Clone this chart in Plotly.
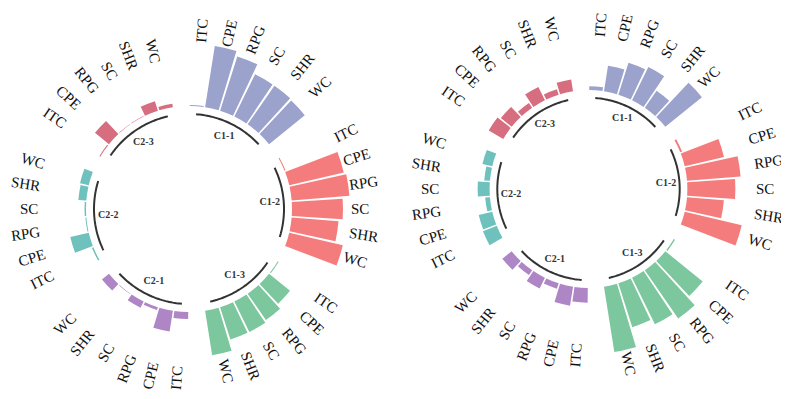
import numpy as np
import plotly.graph_objects as go

# ---------------- data ----------------
groups = ["C1-1", "C1-2", "C1-3", "C2-1", "C2-2", "C2-3"]
items = ["ITC", "CPE", "RPG", "SC", "SHR", "WC"]

# left panel values (one list per group, order = items)
left_c11 = [1, 62, 57, 47, 47, 46]
left_c12 = [1, 56, 58, 51, 47, 55]
left_c13 = [1, 27, 32, 34, 34, 45]
left_c21 = [7, 21, 3, 7, 0.5, 9]
left_c22 = [1.5, 19, 1, 1.5, 8, 9]
left_c23 = [1, 18, 0.5, 0.5, 10, 3.5]

# right panel values
right_c11 = [4, 27, 35, 38.5, 21.5, 49]
right_c12 = [2, 42, 56, 50, 38.5, 61]
right_c13 = [1.5, 50, 61, 54, 48, 70]
right_c21 = [15.5, 20, 6, 12.5, 6, 12.5]
right_c22 = [15.5, 14.5, 5, 12.5, 6, 10.5]
right_c23 = [17.5, 14.5, 6, 15.5, 6, 12.5]

left_values = [left_c11, left_c12, left_c13, left_c21, left_c22, left_c23]
right_values = [right_c11, right_c12, right_c13, right_c21, right_c22, right_c23]

# ---------------- style / layout ----------------
colors = ["#9BA2CC", "#F47C7C", "#7DC79E", "#AF86C5", "#6FC1BE", "#D76E80"]
W, H = 789, 399
R_MAX = 172      # radial axis range (units)
BASE = 103       # inner radius where bars start
ARC_R = 95       # radius of group arcs
GLAB_R = 81      # radius of group labels
LAB_FONT = 15
char_w = {"I": .333, "T": .611, "C": .667, "P": .556, "E": .611, "R": .667,
          "G": .722, "S": .556, "H": .722, "W": .944}

n_per = len(items) + 1
n_slots = len(groups) * n_per
step = 360.0 / n_slots


def theta_of(g, i):
    idx = g * n_per + i + 1
    return (idx - 0.5) * step


panels = [
    dict(name="polar", values=left_values, cx=181.0, cy=201.0, s=1.0,
         label_r=[167, 162, 154, 157, 151, 150]),
    dict(name="polar2", values=right_values, cx=580.5, cy=181.0, s=0.96,
         label_r=[159, 175, 175, 161.5, 156, 159]),
]

fig = go.Figure()
annotations = []
layout_polars = {}

for p in panels:
    sub = p["name"]
    half = R_MAX * p["s"]
    dom_x = [(p["cx"] - half) / W, (p["cx"] + half) / W]
    dom_y = [1 - (p["cy"] + half) / H, 1 - (p["cy"] - half) / H]
    layout_polars[sub] = dict(
        domain=dict(x=dom_x, y=dom_y),
        bgcolor="rgba(0,0,0,0)",
        radialaxis=dict(visible=False, range=[0, R_MAX]),
        angularaxis=dict(visible=False, rotation=90, direction="clockwise"),
    )
    for g, gname in enumerate(groups):
        vals = p["values"][g]
        thetas = [theta_of(g, i) for i in range(len(items))]
        fig.add_trace(go.Barpolar(
            r=vals, theta=thetas, base=BASE, width=0.9 * step,
            marker=dict(color=colors[g], line=dict(width=0)),
            subplot=sub, showlegend=False, hoverinfo="skip"))
        arc_t = np.linspace(thetas[0], thetas[-1], 40)
        fig.add_trace(go.Scatterpolar(
            r=[ARC_R] * len(arc_t), theta=arc_t, mode="lines",
            line=dict(color="#333333", width=2), subplot=sub,
            showlegend=False, hoverinfo="skip"))
        mid = (thetas[0] + thetas[-1]) / 2
        fig.add_trace(go.Scatterpolar(
            r=[GLAB_R], theta=[mid], mode="text", text=["<b>%s</b>" % gname],
            textfont=dict(family="Liberation Serif", size=10, color="#333333"),
            subplot=sub, showlegend=False, hoverinfo="skip"))
        # item labels, rotated radially
        r0 = p["label_r"][g]
        for i, it in enumerate(items):
            th = thetas[i]
            w = sum(char_w.get(c, 0.6) for c in it) * LAB_FONT
            rc = (r0 + w / 2) * p["s"]
            rad = np.radians(th)
            x = (p["cx"] + rc * np.sin(rad)) / W
            y = 1 - (p["cy"] - rc * np.cos(rad)) / H
            ang = th - 90 if th <= 180 else th - 270
            annotations.append(dict(
                x=x, y=y, xref="paper", yref="paper", text=it, showarrow=False,
                xanchor="center", yanchor="middle", textangle=ang,
                font=dict(family="Liberation Serif", size=LAB_FONT, color="#111111")))

fig.update_layout(
    width=W, height=H,
    margin=dict(l=0, r=0, t=0, b=0),
    paper_bgcolor="white", plot_bgcolor="white",
    showlegend=False,
    annotations=annotations,
    **layout_polars,
)

fig.write_html("out.html")
